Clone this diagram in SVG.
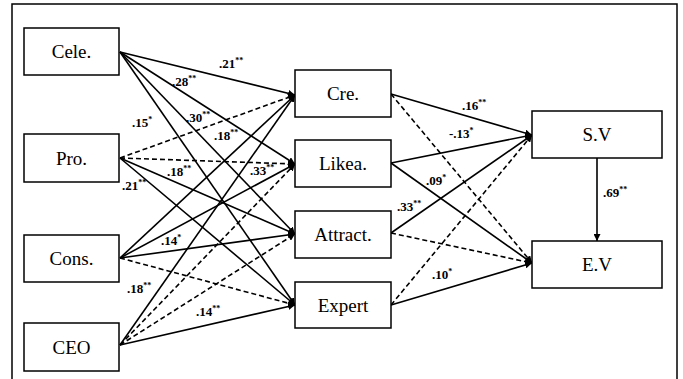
<svg xmlns="http://www.w3.org/2000/svg" width="683" height="379" viewBox="0 0 683 379">
<style>
.box{fill:#fff;stroke:#000;stroke-width:1.5}
.bt{font-size:19px;text-anchor:middle;fill:#000}
.ln{stroke:#000;stroke-width:1.6;fill:none}
.ds{stroke-dasharray:5,3}
.lbl{font-size:13px;font-weight:bold;fill:#000}
.sup{font-size:8px}
</style>
<defs>
<marker id="ah" viewBox="0 0 10 10" refX="10" refY="5" markerWidth="7" markerHeight="7" markerUnits="userSpaceOnUse" orient="auto">
<path d="M0,0 L10,5 L0,10 Z" fill="#000"/>
</marker>
</defs>
<rect x="12" y="4" width="665" height="380" fill="#fff" stroke="#000" stroke-width="1.5"/>
<g id="connectors">
<line class="ln" x1="120" y1="52" x2="295" y2="95" marker-end="url(#ah)"/>
<line class="ln" x1="120" y1="52" x2="295" y2="164" marker-end="url(#ah)"/>
<line class="ln" x1="120" y1="52" x2="295" y2="234" marker-end="url(#ah)"/>
<line class="ln" x1="120" y1="52" x2="295" y2="305" marker-end="url(#ah)"/>
<line class="ln ds" x1="120" y1="158" x2="295" y2="95" marker-end="url(#ah)"/>
<line class="ln ds" x1="120" y1="158" x2="295" y2="164" marker-end="url(#ah)"/>
<line class="ln" x1="120" y1="158" x2="295" y2="234" marker-end="url(#ah)"/>
<line class="ln" x1="120" y1="158" x2="295" y2="305" marker-end="url(#ah)"/>
<line class="ln" x1="120" y1="258" x2="295" y2="95" marker-end="url(#ah)"/>
<line class="ln" x1="120" y1="258" x2="295" y2="164" marker-end="url(#ah)"/>
<line class="ln" x1="120" y1="258" x2="295" y2="234" marker-end="url(#ah)"/>
<line class="ln ds" x1="120" y1="258" x2="295" y2="305" marker-end="url(#ah)"/>
<line class="ln" x1="120" y1="345" x2="295" y2="95" marker-end="url(#ah)"/>
<line class="ln ds" x1="120" y1="345" x2="295" y2="164" marker-end="url(#ah)"/>
<line class="ln ds" x1="120" y1="345" x2="295" y2="234" marker-end="url(#ah)"/>
<line class="ln" x1="120" y1="345" x2="295" y2="305" marker-end="url(#ah)"/>
<line class="ln" x1="391" y1="94" x2="532" y2="135" marker-end="url(#ah)"/>
<line class="ln ds" x1="391" y1="94" x2="532" y2="263" marker-end="url(#ah)"/>
<line class="ln" x1="391" y1="163" x2="532" y2="135" marker-end="url(#ah)"/>
<line class="ln" x1="391" y1="163" x2="532" y2="263" marker-end="url(#ah)"/>
<line class="ln" x1="391" y1="233" x2="532" y2="135" marker-end="url(#ah)"/>
<line class="ln ds" x1="391" y1="233" x2="532" y2="263" marker-end="url(#ah)"/>
<line class="ln ds" x1="391" y1="305" x2="532" y2="135" marker-end="url(#ah)"/>
<line class="ln" x1="391" y1="305" x2="532" y2="263" marker-end="url(#ah)"/>
<line class="ln" x1="597" y1="158" x2="597" y2="241" stroke-width="1.2" marker-end="url(#ah)"/>
</g>
<g id="labels" font-family="Liberation Serif, Times New Roman, serif">
<text class="lbl" x="219" y="68">.21<tspan class="sup" dy="-5">**</tspan></text>
<text class="lbl" x="172" y="86">.28<tspan class="sup" dy="-5">**</tspan></text>
<text class="lbl" x="132" y="127">.15<tspan class="sup" dy="-5">*</tspan></text>
<text class="lbl" x="186" y="122">.30<tspan class="sup" dy="-5">**</tspan></text>
<text class="lbl" x="214" y="140">.18<tspan class="sup" dy="-5">**</tspan></text>
<text class="lbl" x="167" y="176">.18<tspan class="sup" dy="-5">**</tspan></text>
<text class="lbl" x="250" y="175">.33<tspan class="sup" dy="-5">**</tspan></text>
<text class="lbl" x="122" y="190">.21<tspan class="sup" dy="-5">**</tspan></text>
<text class="lbl" x="161" y="245">.14<tspan class="sup" dy="-5">*</tspan></text>
<text class="lbl" x="127" y="293">.18<tspan class="sup" dy="-5">**</tspan></text>
<text class="lbl" x="196" y="316">.14<tspan class="sup" dy="-5">**</tspan></text>
<text class="lbl" x="462" y="110">.16<tspan class="sup" dy="-5">**</tspan></text>
<text class="lbl" x="449" y="138">-.13<tspan class="sup" dy="-5">*</tspan></text>
<text class="lbl" x="426" y="185">.09<tspan class="sup" dy="-5">*</tspan></text>
<text class="lbl" x="397" y="211">.33<tspan class="sup" dy="-5">**</tspan></text>
<text class="lbl" x="432" y="279">.10<tspan class="sup" dy="-5">*</tspan></text>
<text class="lbl" x="603" y="197">.69<tspan class="sup" dy="-5">**</tspan></text>
</g>
<g font-family="Liberation Serif, Times New Roman, serif">
<g id="cele"><rect class="box" x="24" y="28" width="95" height="47"/><text class="bt" x="71.5" y="58">Cele.</text></g>
<g id="pro"><rect class="box" x="24" y="134" width="95" height="48"/><text class="bt" x="71.5" y="164.5">Pro.</text></g>
<g id="cons"><rect class="box" x="24" y="235" width="95" height="47"/><text class="bt" x="71.5" y="265">Cons.</text></g>
<g id="ceo"><rect class="box" x="24" y="323" width="95" height="48"/><text class="bt" x="71.5" y="353.5">CEO</text></g>
<g id="cre"><rect class="box" x="295" y="70" width="96" height="47"/><text class="bt" x="343" y="100">Cre.</text></g>
<g id="likea"><rect class="box" x="295" y="140" width="96" height="47"/><text class="bt" x="343" y="170">Likea.</text></g>
<g id="attract"><rect class="box" x="295" y="211" width="96" height="47"/><text class="bt" x="343" y="241">Attract.</text></g>
<g id="expert"><rect class="box" x="295" y="282" width="96" height="46"/><text class="bt" x="343" y="311.5">Expert</text></g>
<g id="sv"><rect class="box" x="532" y="111" width="130" height="47"/><text class="bt" x="597" y="141">S.V</text></g>
<g id="ev"><rect class="box" x="532" y="241" width="130" height="47"/><text class="bt" x="597" y="271">E.V</text></g>
</g>
</svg>
